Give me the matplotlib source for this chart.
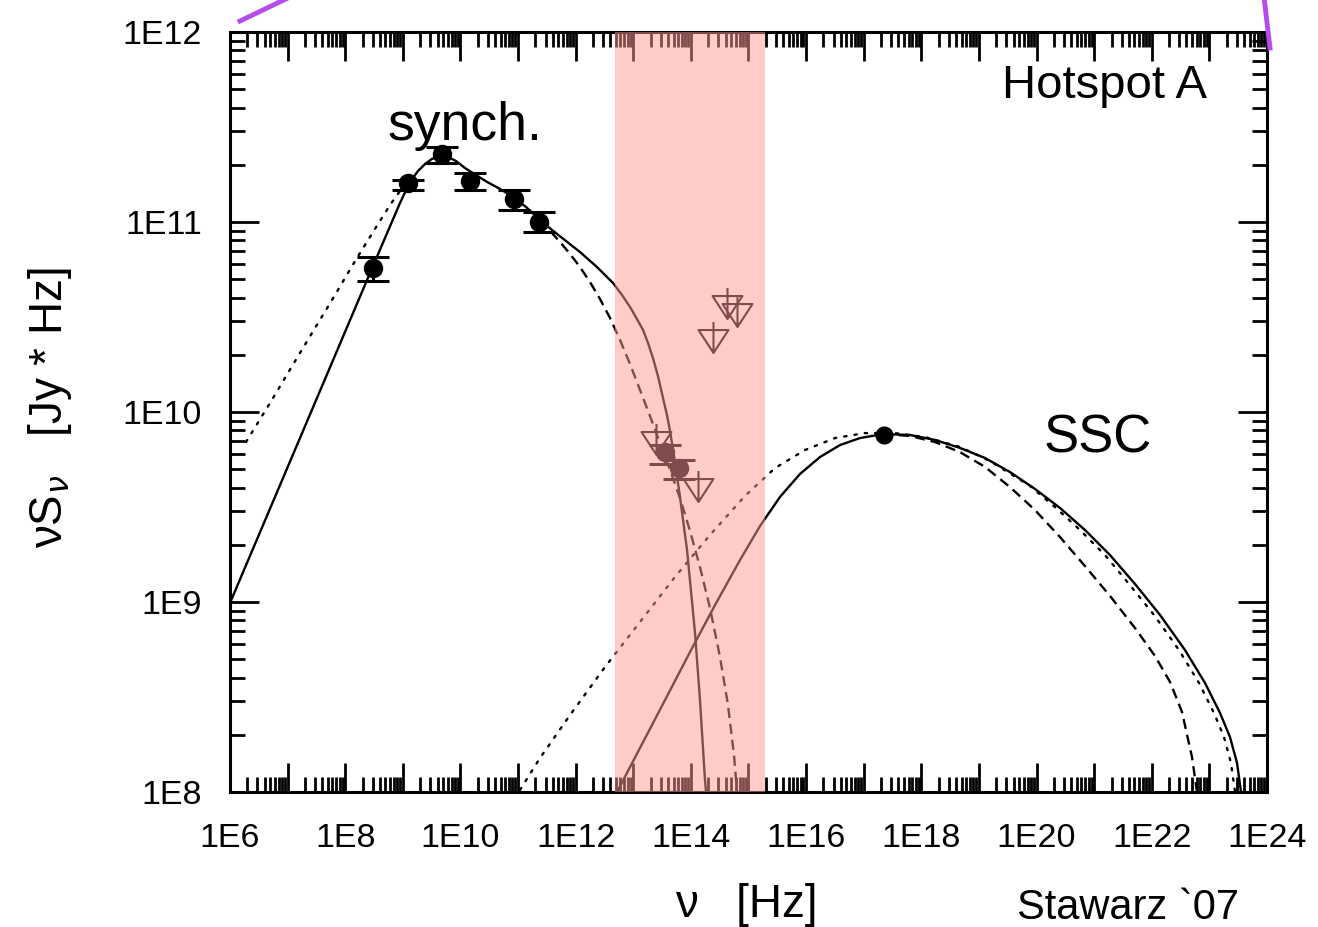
import numpy as np
import matplotlib.pyplot as plt
from matplotlib.lines import Line2D
from matplotlib.path import Path
from matplotlib.ticker import LogLocator, FuncFormatter, NullFormatter

plt.rcParams['font.family'] = ['Liberation Sans', 'DejaVu Sans']

# measured points (log10 nu [Hz], log10 nuS_nu [Jy*Hz]) with error bar ends
pt_lognu = [8.482, 9.090, 9.680, 10.165, 10.929, 11.363, 13.551, 13.794]
pt_logS = [10.758, 11.205, 11.358, 11.216, 11.121, 11.000, 9.789, 9.705]
pt_logS_lo = [10.689, 11.168, 11.311, 11.168, 11.063, 10.947, 9.726, 9.647]
pt_logS_hi = [10.816, 11.221, 11.395, 11.258, 11.168, 11.053, 9.826, 9.747]

# X-ray point
ssc_pt_lognu = [17.352]
ssc_pt_logS = [9.879]

# upper limits
ul_lognu = [14.635, 14.801, 14.384, 13.395, 14.124]
ul_logS = [10.555, 10.508, 10.376, 9.839, 9.589]

# synchrotron model, solid
syn_solid_lognu = [6.000, 7.215, 8.482, 8.951, 9.124, 9.263, 9.385, 9.506, 9.645,
                   9.784, 9.923, 10.079, 10.270, 10.461, 10.687, 10.912, 11.138,
                   11.381, 11.589, 11.832, 12.075, 12.370, 12.648, 12.804, 12.943,
                   13.065, 13.169, 13.256, 13.342, 13.429, 13.516, 13.585, 13.638,
                   13.724, 13.811, 13.933, 14.072, 14.158, 14.245, 14.263]
syn_solid_logS = [8.995, 9.863, 10.768, 11.100, 11.211, 11.268, 11.305, 11.332, 11.347,
                  11.342, 11.321, 11.284, 11.247, 11.211, 11.174, 11.132, 11.079,
                  11.011, 10.958, 10.900, 10.842, 10.763, 10.679, 10.616, 10.553,
                  10.489, 10.432, 10.363, 10.284, 10.189, 10.074, 9.984, 9.900,
                  9.737, 9.553, 9.274, 8.837, 8.484, 8.063, 8.000]

# synchrotron model, dashed (branches off after 1E11 Hz)
syn_dash_lognu = [11.381, 11.555, 11.728, 11.902, 12.075, 12.249, 12.422, 12.596,
                  12.770, 12.943, 13.117, 13.290, 13.464, 13.638, 13.811, 13.985,
                  14.158, 14.332, 14.505, 14.644, 14.748, 14.801]
syn_dash_logS = [11.011, 10.953, 10.895, 10.832, 10.763, 10.684, 10.595, 10.495,
                 10.379, 10.253, 10.116, 9.979, 9.837, 9.695, 9.547, 9.374,
                 9.184, 8.968, 8.711, 8.458, 8.195, 8.000]

# synchrotron model, dotted (low-frequency part)
syn_dot_lognu = [6.278, 6.694, 7.215, 7.823, 8.118, 8.343, 8.569, 8.777, 8.951, 9.124]
syn_dot_logS = [9.842, 10.047, 10.311, 10.616, 10.768, 10.879, 10.989, 11.089, 11.163, 11.211]

# SSC model, solid
ssc_solid_lognu = [12.718, 13.117, 13.551, 13.985, 14.419, 14.853, 15.200, 15.547,
                   15.894, 16.241, 16.588, 16.936, 17.335, 17.803, 18.237, 18.671,
                   19.105, 19.539, 19.973, 20.407, 20.841, 21.275, 21.709, 22.143,
                   22.577, 22.924, 23.185, 23.358, 23.480, 23.549]
ssc_solid_logS = [8.000, 8.232, 8.484, 8.737, 8.984, 9.221, 9.400, 9.553,
                  9.674, 9.763, 9.826, 9.863, 9.884, 9.879, 9.853, 9.811,
                  9.758, 9.684, 9.595, 9.495, 9.379, 9.247, 9.095, 8.932,
                  8.747, 8.574, 8.416, 8.289, 8.153, 8.000]

# SSC model, dashed
ssc_dash_lognu = [17.335, 17.803, 18.237, 18.671, 19.105, 19.539, 19.973, 20.407,
                  20.841, 21.275, 21.709, 22.056, 22.317, 22.525, 22.698, 22.785]
ssc_dash_logS = [9.884, 9.874, 9.842, 9.789, 9.711, 9.605, 9.484, 9.342,
                 9.189, 9.032, 8.863, 8.716, 8.579, 8.421, 8.184, 8.000]

# SSC model, dotted
ssc_dot_lognu = [11.034, 11.381, 11.902, 12.509, 13.117, 13.724, 14.332, 14.939,
                 15.460, 15.981, 16.502, 17.022, 17.543, 18.064, 18.671, 19.192,
                 19.886, 20.338, 20.754, 21.188, 21.605, 22.039, 22.473, 22.820,
                 23.080, 23.254, 23.375, 23.445]
ssc_dot_logS = [8.011, 8.179, 8.405, 8.658, 8.895, 9.132, 9.353, 9.558,
                9.705, 9.800, 9.863, 9.889, 9.889, 9.868, 9.816, 9.742,
                9.611, 9.495, 9.379, 9.247, 9.095, 8.932, 8.747, 8.574,
                8.416, 8.289, 8.153, 8.000]

# shaded frequency band
band_lognu = [12.68, 15.29]


def p(v):
    return np.power(10.0, np.array(v))


fig = plt.figure(figsize=(13.18, 9.27), dpi=100)
ax = fig.add_axes([0.1745, 0.1456, 0.7868, 0.8199])
ax.set_xscale('log')
ax.set_yscale('log')
ax.set_xlim(1e6, 1e24)
ax.set_ylim(1e8, 1e12)

lw = 1.7
dot = (0, (1.0, 3.4))
dash = (0, (4.3, 2.5))

ax.plot(p(syn_solid_lognu), p(syn_solid_logS), color='k', lw=lw)
ax.plot(p(syn_dash_lognu), p(syn_dash_logS), color='k', lw=lw, ls=dash)
ax.plot(p(syn_dot_lognu), p(syn_dot_logS), color='k', lw=lw, ls=dot,
        dash_capstyle='round')
ax.plot(p(ssc_solid_lognu), p(ssc_solid_logS), color='k', lw=lw)
ax.plot(p(ssc_dash_lognu), p(ssc_dash_logS), color='k', lw=lw, ls=dash)
ax.plot(p(ssc_dot_lognu), p(ssc_dot_logS), color='k', lw=lw, ls=dot,
        dash_capstyle='round')

S = p(pt_logS)
yerr = [S - p(pt_logS_lo), p(pt_logS_hi) - S]
ax.errorbar(p(pt_lognu), S, yerr=yerr, fmt='o', color='k', ms=13,
            elinewidth=2.2, capsize=11.5, capthick=2.2, zorder=5)
ax.plot(p(ssc_pt_lognu), p(ssc_pt_logS), 'o', color='k', ms=12, zorder=5)

# upper limit marker: open down triangle with a vertical line to its apex
verts = [(-15, 11.5), (15, 11.5), (0, -11.5), (-15, 11.5), (0, 19.5), (0, -11.5)]
codes = [Path.MOVETO, Path.LINETO, Path.LINETO, Path.CLOSEPOLY,
         Path.MOVETO, Path.LINETO]
ul_marker = Path(verts, codes)
ax.plot(p(ul_lognu), p(ul_logS), ls='none', marker=ul_marker, ms=28,
        mfc='none', mec='k', mew=1.5, zorder=5)

ax.axvspan(p(band_lognu[0]), p(band_lognu[1]), color='#ff9a96', alpha=0.5,
           lw=0, zorder=10)

# ticks
for axis in (ax.xaxis, ax.yaxis):
    axis.set_major_locator(LogLocator(base=10, numticks=40))
    axis.set_minor_locator(LogLocator(base=10, subs=np.arange(2, 10), numticks=40))
    axis.set_minor_formatter(NullFormatter())
ax.xaxis.set_major_formatter(FuncFormatter(
    lambda v, pos: '1E%d' % round(np.log10(v)) if round(np.log10(v)) % 2 == 0 else ''))
ax.yaxis.set_major_formatter(FuncFormatter(lambda v, pos: '1E%d' % round(np.log10(v))))
ax.tick_params(which='both', direction='in', top=True, right=True, width=2.0,
               labelsize=24.5)
ax.tick_params(which='major', length=21)
ax.tick_params(which='minor', length=11)
ax.tick_params(axis='x', pad=22)
ax.tick_params(axis='y', pad=20)
for s in ax.spines.values():
    s.set_linewidth(2.2)

ax.text(0.2266, 0.858, 'synch.', transform=ax.transAxes, fontsize=38.5,
        ha='center', va='baseline')
ax.text(0.942, 0.913, 'Hotspot A', transform=ax.transAxes, fontsize=34,
        ha='right', va='baseline')
ax.text(0.837, 0.447, 'SSC', transform=ax.transAxes, fontsize=38,
        ha='center', va='baseline')

fig.text(746 / 1318, 1 - 917 / 927, 'ν   [Hz]', fontsize=33, ha='center',
         va='baseline')
fig.text(50 / 1318, 1 - 408 / 927, 'νS$_{ν}$   [Jy * Hz]', fontsize=33,
         rotation=90, ha='center', va='center')
fig.text(1128 / 1318, 1 - 919 / 927, 'Stawarz `07', fontsize=30, ha='center',
         va='baseline')

# purple strokes at the top corners
fig.add_artist(Line2D([240 / 1318, 290 / 1318], [1 - 21 / 927, 1 + 3 / 927],
                      transform=fig.transFigure, color='#b44cf0', lw=3.5))
fig.add_artist(Line2D([1264 / 1318, 1270 / 1318], [1 + 3 / 927, 1 - 48 / 927],
                      transform=fig.transFigure, color='#b44cf0', lw=3.5))

fig.savefig('out.png', dpi=100)
